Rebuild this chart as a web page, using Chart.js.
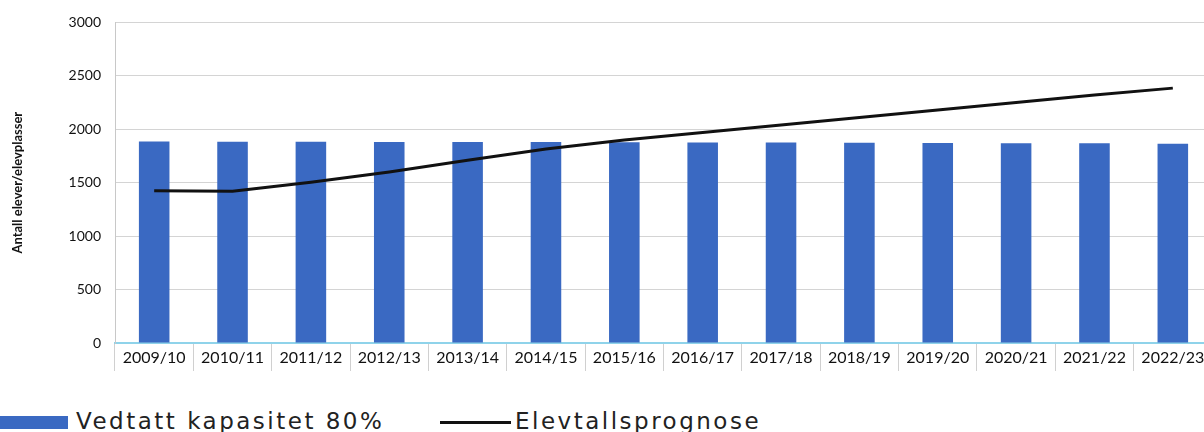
<!DOCTYPE html>
<html>
<head>
<meta charset="utf-8">
<script src="https://cdn.jsdelivr.net/npm/chart.js@4"></script>
<style>
  body { margin: 0; background: #fff; overflow: hidden; }
  #wrap { position: relative; width: 1204px; height: 432px; overflow: hidden; }
  #box { position: absolute; left: 0; top: 0; width: 1212px; height: 400px; }
  .leg { position: absolute; top: 408px; font-family: 'DejaVu Sans', sans-serif; font-size: 23px; color: #222; letter-spacing: 2.5px; white-space: nowrap; }
  .sw { display: inline-block; vertical-align: middle; }
</style>
</head>
<body>
<div id="wrap">
  <div id="box"><canvas id="chart"></canvas></div>
  <div class="leg" style="left:0px"><span class="sw" style="width:68px;height:13px;background:#3a69c2;margin-right:8px"></span>Vedtatt kapasitet 80%</div>
  <div class="leg" style="left:440px"><span class="sw" style="width:71px;height:3px;background:#111;margin-right:4px"></span>Elevtallsprognose</div>
</div>
<script>
const years = ['2009/10', '2010/11', '2011/12', '2012/13', '2013/14', '2014/15', '2015/16',
  '2016/17', '2017/18', '2018/19', '2019/20', '2020/21', '2021/22', '2022/23'];
const capacity = [1885, 1884, 1883, 1882, 1881, 1880, 1878, 1877, 1876, 1874, 1872, 1870, 1868, 1865];
const forecast = [1425, 1420, 1505, 1600, 1710, 1815, 1900, 1970, 2040, 2110, 2180, 2250, 2320, 2385];
const yTicks = [0, 500, 1000, 1500, 2000, 2500, 3000];

const tickFont = { family: 'Lato, sans-serif', size: 14 };

new Chart(document.getElementById('chart'), {
  type: 'bar',
  data: {
    labels: years,
    datasets: [
      {
        type: 'line',
        label: 'Elevtallsprognose',
        data: forecast,
        borderColor: '#111',
        borderWidth: 3,
        pointRadius: 0,
        tension: 0,
        order: 0,
      },
      {
        label: 'Vedtatt kapasitet 80%',
        data: capacity,
        backgroundColor: '#3a69c2',
        barPercentage: 0.39,
        categoryPercentage: 1,
        order: 1,
      },
    ],
  },
  options: {
    responsive: true,
    maintainAspectRatio: false,
    animation: false,
    layout: { padding: { top: 14, right: 0, left: 10, bottom: 0 } },
    plugins: { legend: { display: false }, tooltip: { enabled: false } },
    scales: {
      x: {
        offset: true,
        grid: {
          offset: true,
          drawOnChartArea: false,
          drawTicks: true,
          tickLength: 28,
          color: '#d0d0d0',
        },
        border: { color: '#8fd3ea', width: 2 },
        ticks: { color: '#111', font: { family: 'Lato, sans-serif', size: 16 }, padding: -23, maxRotation: 0 },
        afterFit: (scale) => { scale.height = 57; },
      },
      y: {
        min: 0,
        max: 3000,
        afterBuildTicks: (scale) => { scale.ticks = yTicks.map((v) => ({ value: v })); },
        grid: { color: '#d4d4d4', drawTicks: false },
        border: { color: '#c8c8c8' },
        ticks: { color: '#111', font: tickFont, padding: 14, callback: (v) => String(v) },
        title: {
          display: true,
          text: 'Antall elever/elevplasser',
          color: '#111',
          font: { family: 'Lato, sans-serif', size: 13, weight: 'bold' },
          padding: { top: 0, bottom: 0 },
        },
        afterFit: (scale) => { scale.width = 105; },
      },
    },
  },
});
</script>
</body>
</html>
